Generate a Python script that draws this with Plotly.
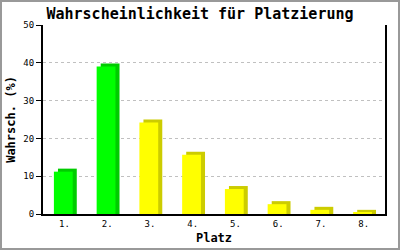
import plotly.graph_objects as go

categories = ["1.", "2.", "3.", "4.", "5.", "6.", "7.", "8."]
values = [11.2, 39.0, 24.2, 15.7, 6.6, 2.6, 1.1, 0.3]
front_colors = ["#00ff00", "#00ff00", "#ffff00", "#ffff00", "#ffff00", "#ffff00", "#ffff00", "#ffff00"]
side_colors = ["#00cc00", "#00cc00", "#cccc00", "#cccc00", "#cccc00", "#cccc00", "#cccc00", "#cccc00"]
y_ticks = [0, 10, 20, 30, 40, 50]
title_text = "Wahrscheinlichkeit für Platzierung"
x_title = "Platz"
y_title = "Wahrsch. (%)"

W, H = 400, 250
L, R, T, B = 43, 15, 25, 36
depth = 0.8  # 3D top depth in data units

mono = "DejaVu Sans Mono"

fig = go.Figure()
fig.add_trace(go.Bar(
    x=categories, y=[v + depth for v in values],
    marker=dict(color=side_colors, line=dict(width=0)),
    width=0.44, offset=-0.15, hoverinfo="skip", showlegend=False,
))
fig.add_trace(go.Bar(
    x=categories, y=values,
    marker=dict(color=front_colors, line=dict(width=0)),
    width=0.44, offset=-0.245, showlegend=False,
))

pw = W - L - R
ph = H - T - B
fig.add_shape(type="rect", xref="paper", yref="paper",
              x0=-(L - 1) / pw, x1=(pw + R - 1) / pw,
              y0=-(B - 1) / ph, y1=(ph + T - 1) / ph,
              line=dict(color="#999999", width=2), layer="below")

fig.update_layout(
    width=W, height=H,
    margin=dict(l=L, r=R, t=T, b=B, autoexpand=False),
    paper_bgcolor="white", plot_bgcolor="white",
    barmode="overlay",
    title=dict(text=title_text, x=0.5, xref="container", xanchor="center",
               y=1 - 14 / H, yanchor="middle",
               font=dict(family=mono, size=15, color="black", weight="bold")),
    xaxis=dict(
        automargin=False,
        showline=True, linecolor="black", linewidth=2, mirror=False,
        showgrid=False, ticks="", zeroline=False,
        tickfont=dict(family=mono, size=9, color="black"),
        title=dict(text=x_title, standoff=6,
                   font=dict(family=mono, size=12, color="black", weight="bold")),
        range=[-0.5, 7.5],
    ),
    yaxis=dict(
        automargin=False,
        range=[0, 50], tickvals=y_ticks,
        showline=True, linecolor="black", linewidth=2, mirror=True,
        ticks="outside", ticklen=5, tickcolor="black", tickwidth=1,
        showgrid=True, gridcolor="#c0c0c0", griddash="dot", gridwidth=1,
        zeroline=False,
        tickfont=dict(family=mono, size=9, color="black"),
        title=dict(text=y_title, standoff=5,
                   font=dict(family=mono, size=12, color="black", weight="bold")),
    ),
)

fig.write_html("out.html")
